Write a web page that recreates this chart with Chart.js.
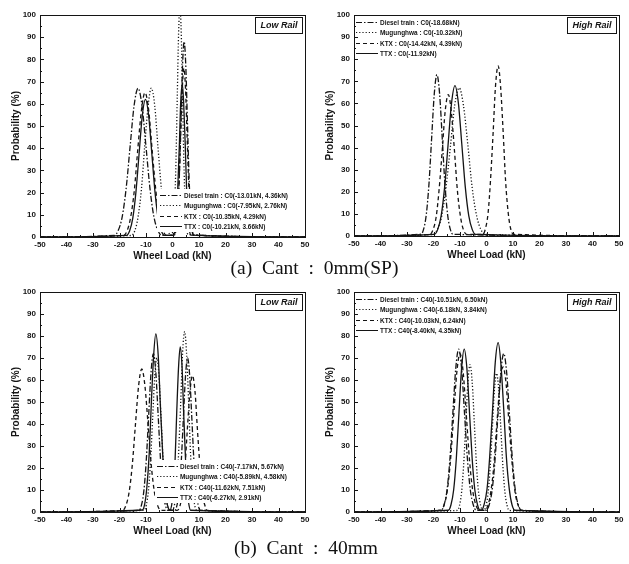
<!DOCTYPE html>
<html>
<head>
<meta charset="utf-8">
<script src="https://cdn.jsdelivr.net/npm/chart.js@4.4.0/dist/chart.umd.min.js"></script>
<style>
  body { margin: 0; background: #fff; width: 629px; height: 564px; position: relative; overflow: hidden; }
  .panel { position: absolute; }
  .cap { position: absolute; font-family: "Liberation Serif", "Times New Roman", serif; font-size: 19.5px; color: #111; white-space: pre; line-height: 20px; }
</style>
</head>
<body>
<div class="panel" style="left:0;top:0;width:314px;height:262px"><canvas id="c0Low"></canvas></div>
<div class="panel" style="left:314px;top:0;width:315px;height:262px"><canvas id="c0High"></canvas></div>
<div class="panel" style="left:0;top:280px;width:314px;height:262px"><canvas id="c40Low"></canvas></div>
<div class="panel" style="left:314px;top:280px;width:315px;height:262px"><canvas id="c40High"></canvas></div>
<div class="cap" style="left:0;width:629px;text-align:center;top:258px">(a)  Cant  :  0mm(SP)</div>
<div class="cap" style="left:0;width:612px;text-align:center;top:538px">(b)  Cant  :  40mm</div>
<script>
"use strict";

/* trains, in legend order */
var trains = ['Diesel train', 'Mugunghwa', 'KTX', 'TTX'];

/* legend texts */
var c0LowLabels = ['Diesel train : C0(-13.01kN, 4.36kN)', 'Mugunghwa : C0(-7.95kN, 2.76kN)', 'KTX : C0(-10.35kN, 4.29kN)', 'TTX : C0(-10.21kN, 3.66kN)'];
var c0HighLabels = ['Diesel train : C0(-18.68kN)', 'Mugunghwa : C0(-10.32kN)', 'KTX : C0(-14.42kN, 4.39kN)', 'TTX : C0(-11.92kN)'];
var c40LowLabels = ['Diesel train : C40(-7.17kN, 5.67kN)', 'Mugunghwa : C40(-5.89kN, 4.58kN)', 'KTX : C40(-11.62kN, 7.51kN)', 'TTX : C40(-6.27kN, 2.91kN)'];
var c40HighLabels = ['Diesel train : C40(-10.51kN, 6.50kN)', 'Mugunghwa : C40(-6.18kN, 3.84kN)', 'KTX : C40(-10.03kN, 6.24kN)', 'TTX : C40(-8.40kN, 4.35kN)'];

/* [wheel load kN, probability %] */
var c0LowDiesel = [[-50,0],[-22,0.7],[-20.5,2.9],[-19,9.0],[-17.5,21.8],[-16,40.7],[-14.5,59.1],[-13,67],[-11.5,59.1],[-10,40.7],[-8.5,21.8],[-7,9.0],[-5.5,2.9],[-4,0.7],[0.8,1.0],[1.4,3.9],[2.0,11.9],[2.6,28.6],[3.2,53.4],[3.8,77.6],[4.4,88],[5.0,77.6],[5.6,53.4],[6.2,28.6],[6.8,11.9],[7.4,3.9],[8.0,1.0],[50,0]];
var c0LowMugunghwa = [[-50,0],[-15.5,0.7],[-14.2,2.9],[-13.0,9.0],[-11.7,21.8],[-10.5,40.7],[-9.2,59.1],[-8.0,67],[-6.7,59.1],[-5.5,40.7],[-4.2,21.8],[-3.0,9.0],[-1.7,2.9],[-0.5,0.7],[-0.2,1.1],[0.3,4.6],[0.8,14.0],[1.3,33.8],[1.8,63.1],[2.3,91.7],[2.8,104],[3.3,91.7],[3.8,63.1],[4.3,33.8],[4.8,14.0],[5.3,4.6],[5.8,1.1],[50,0]];
var c0LowKtx = [[-50,0],[-18.4,0.7],[-17.1,2.9],[-15.8,8.8],[-14.4,21.1],[-13.1,39.5],[-11.7,57.3],[-10.4,65],[-9.0,57.3],[-7.7,39.5],[-6.3,21.1],[-5.0,8.8],[-3.6,2.9],[-2.3,0.7],[0.7,0.8],[1.3,3.3],[1.9,10.3],[2.5,24.7],[3.1,46.1],[3.7,67.0],[4.3,76],[4.9,67.0],[5.5,46.1],[6.1,24.7],[6.7,10.3],[7.3,3.3],[7.9,0.8],[50,0]];
var c0LowTtx = [[-50,0],[-17.4,0.7],[-16.2,2.7],[-15.0,8.4],[-13.8,20.2],[-12.6,37.6],[-11.4,54.7],[-10.2,62],[-9.0,54.7],[-7.8,37.6],[-6.6,20.2],[-5.4,8.4],[-4.2,2.7],[-3.0,0.7],[0.4,0.8],[0.9,3.0],[1.5,9.3],[2.0,22.4],[2.6,41.9],[3.1,60.9],[3.7,69],[4.2,60.9],[4.8,41.9],[5.3,22.4],[5.9,9.3],[6.4,3.0],[7.0,0.8],[50,0]];

var c0HighDiesel = [[-50,0],[-24.7,0.8],[-23.7,3.2],[-22.7,9.9],[-21.7,23.7],[-20.7,44.3],[-19.7,64.4],[-18.7,73],[-17.7,64.4],[-16.7,44.3],[-15.7,23.7],[-14.7,9.9],[-13.7,3.2],[-12.7,0.8],[50,0]];
var c0HighMugunghwa = [[-50,0],[-20.2,0.7],[-18.6,2.9],[-16.9,9.0],[-15.3,21.8],[-13.6,40.7],[-12.0,59.1],[-10.3,67],[-8.7,59.1],[-7.0,40.7],[-5.4,21.8],[-3.7,9.0],[-2.1,2.9],[-0.4,0.7],[50,0]];
var c0HighKtx = [[-50,0],[-21.3,0.7],[-20.2,2.8],[-19.0,8.6],[-17.9,20.8],[-16.7,38.8],[-15.6,56.4],[-14.4,64],[-13.3,56.4],[-12.1,38.8],[-11.0,20.8],[-9.8,8.6],[-8.7,2.8],[-7.5,0.7],[-1.3,0.8],[-0.4,3.4],[0.6,10.4],[1.5,25.0],[2.5,46.7],[3.4,67.9],[4.4,77],[5.3,67.9],[6.3,46.7],[7.2,25.0],[8.2,10.4],[9.1,3.4],[10.1,0.8],[50,0]];
var c0HighTtx = [[-50,0],[-19.7,0.7],[-18.4,3.0],[-17.1,9.2],[-15.8,22.1],[-14.5,41.3],[-13.2,60.0],[-11.9,68],[-10.6,60.0],[-9.3,41.3],[-8.0,22.1],[-6.7,9.2],[-5.4,3.0],[-4.1,0.7],[50,0]];

var c40LowDiesel = [[-50,0],[-12.6,0.8],[-11.7,3.2],[-10.8,9.7],[-9.9,23.4],[-9.0,43.7],[-8.1,63.5],[-7.2,72],[-6.3,63.5],[-5.4,43.7],[-4.5,23.4],[-3.6,9.7],[-2.7,3.2],[-1.8,0.8],[0.9,0.8],[1.7,3.1],[2.5,9.5],[3.3,22.8],[4.1,42.5],[4.9,61.7],[5.7,70],[6.5,61.7],[7.3,42.5],[8.1,22.8],[8.9,9.5],[9.7,3.1],[10.5,0.8],[50,0]];
var c40LowMugunghwa = [[-50,0],[-10.7,0.8],[-9.9,3.1],[-9.1,9.5],[-8.3,22.8],[-7.5,42.5],[-6.7,61.7],[-5.9,70],[-5.1,61.7],[-4.3,42.5],[-3.5,22.8],[-2.7,9.5],[-1.9,3.1],[-1.1,0.8],[0.1,0.9],[0.8,3.6],[1.6,11.1],[2.3,26.7],[3.1,49.8],[3.8,72.3],[4.6,82],[5.3,72.3],[6.1,49.8],[6.8,26.7],[7.6,11.1],[8.3,3.6],[9.1,0.9],[50,0]];
var c40LowKtx = [[-50,0],[-18.8,0.7],[-17.6,2.9],[-16.4,8.8],[-15.2,21.1],[-14.0,39.5],[-12.8,57.3],[-11.6,65],[-10.4,57.3],[-9.2,39.5],[-8.0,21.1],[-6.8,8.8],[-5.6,2.9],[-4.4,0.7],[1.8,0.7],[2.8,2.7],[3.7,8.4],[4.7,20.2],[5.6,37.6],[6.6,54.7],[7.5,62],[8.5,54.7],[9.4,37.6],[10.4,20.2],[11.3,8.4],[12.3,2.7],[13.2,0.7],[50,0]];
var c40LowTtx = [[-50,0],[-11.4,0.9],[-10.5,3.6],[-9.7,10.9],[-8.8,26.3],[-8.0,49.2],[-7.1,71.4],[-6.3,81],[-5.4,71.4],[-4.6,49.2],[-3.7,26.3],[-2.9,10.9],[-2.0,3.6],[-1.2,0.9],[-1.0,0.8],[-0.3,3.3],[0.3,10.1],[1.0,24.4],[1.6,45.5],[2.3,66.2],[2.9,75],[3.6,66.2],[4.2,45.5],[4.9,24.4],[5.5,10.1],[6.2,3.3],[6.8,0.8],[50,0]];

var c40HighDiesel = [[-50,0],[-17.1,0.8],[-16.0,3.3],[-14.9,10.0],[-13.8,24.1],[-12.7,44.9],[-11.6,65.3],[-10.5,74],[-9.4,65.3],[-8.3,44.9],[-7.2,24.1],[-6.1,10.0],[-5.0,3.3],[-3.9,0.8],[-0.1,0.8],[1.0,3.2],[2.1,9.7],[3.2,23.4],[4.3,43.7],[5.4,63.5],[6.5,72],[7.6,63.5],[8.7,43.7],[9.8,23.4],[10.9,9.7],[12.0,3.2],[13.1,0.8],[50,0]];
var c40HighMugunghwa = [[-50,0],[-11.0,0.7],[-10.2,2.9],[-9.4,9.0],[-8.6,21.8],[-7.8,40.7],[-7.0,59.1],[-6.2,67],[-5.4,59.1],[-4.6,40.7],[-3.8,21.8],[-3.0,9.0],[-2.2,2.9],[-1.4,0.7],[-1.0,0.7],[-0.2,2.8],[0.6,8.5],[1.4,20.5],[2.2,38.2],[3.0,55.6],[3.8,63],[4.6,55.6],[5.4,38.2],[6.2,20.5],[7.0,8.5],[7.8,2.8],[8.6,0.7],[50,0]];
var c40HighKtx = [[-50,0],[-17.2,0.8],[-16.0,3.2],[-14.8,9.7],[-13.6,23.4],[-12.4,43.7],[-11.2,63.5],[-10.0,72],[-8.8,63.5],[-7.6,43.7],[-6.4,23.4],[-5.2,9.7],[-4.0,3.2],[-2.8,0.8],[-0.7,0.7],[0.5,2.9],[1.6,8.9],[2.8,21.5],[3.9,40.1],[5.1,58.2],[6.2,66],[7.4,58.2],[8.5,40.1],[9.7,21.5],[10.8,8.9],[12.0,2.9],[13.1,0.7],[50,0]];
var c40HighTtx = [[-50,0],[-14.4,0.8],[-13.4,3.3],[-12.4,10.0],[-11.4,24.1],[-10.4,44.9],[-9.4,65.3],[-8.4,74],[-7.4,65.3],[-6.4,44.9],[-5.4,24.1],[-4.4,10.0],[-3.4,3.3],[-2.4,0.8],[-1.9,0.8],[-0.9,3.4],[0.2,10.4],[1.2,25.0],[2.3,46.7],[3.3,67.9],[4.4,77],[5.4,67.9],[6.5,46.7],[7.5,25.0],[8.6,10.4],[9.6,3.4],[10.7,0.8],[50,0]];

/* line style per train: dash-dot, dot, dash, solid */
var dashes = [[6, 2, 1.5, 2], [1.2, 2], [4, 3], []];
var ink = '#141414';
var sansFont = '"Liberation Sans", Arial, sans-serif';

/* frame, inward ticks, legend box and rail tag (Origin style) */
var originDeco = {
    id: 'originDeco',
    afterDatasetsDraw: function (chart, args, opts) {
        var ctx = chart.ctx, a = chart.chartArea;
        var xs = chart.scales.x, ys = chart.scales.y;
        ctx.save();

        // legend
        if (opts.box) {
            ctx.fillStyle = '#fff';
            ctx.fillRect(a.left + opts.box[0], a.top + opts.box[1], opts.box[2], opts.box[3]);
        }
        ctx.font = 'bold 7.5px ' + sansFont;
        ctx.textBaseline = 'middle';
        opts.labels.forEach(function (t, i) {
            var y = Math.round(a.top + opts.rows[i]) + 0.5;
            ctx.strokeStyle = ink;
            ctx.lineWidth = 1;
            ctx.setLineDash(dashes[i]);
            ctx.beginPath();
            ctx.moveTo(a.left + opts.sample[0], y);
            ctx.lineTo(a.left + opts.sample[1], y);
            ctx.stroke();
            ctx.setLineDash([]);
            ctx.fillStyle = ink;
            // condensed lettering
            ctx.save();
            ctx.translate(a.left + opts.sample[1] + 2, y);
            ctx.scale(0.86, 1);
            ctx.fillText(t, 0, 0);
            ctx.restore();
        });

        // frame
        ctx.strokeStyle = ink;
        ctx.lineWidth = 1;
        ctx.strokeRect(Math.round(a.left) + 0.5, Math.round(a.top) + 0.5,
            Math.round(a.right - a.left), Math.round(a.bottom - a.top));

        // inward ticks
        ctx.beginPath();
        var v, px;
        for (v = -50; v <= 50; v += 5) {
            px = Math.round(xs.getPixelForValue(v)) + 0.5;
            ctx.moveTo(px, a.bottom);
            ctx.lineTo(px, a.bottom - (v % 10 === 0 ? 4 : 2));
        }
        for (v = 0; v <= 100; v += 5) {
            px = Math.round(ys.getPixelForValue(v)) + 0.5;
            ctx.moveTo(a.left, px);
            ctx.lineTo(a.left + (v % 10 === 0 ? 4 : 2), px);
        }
        ctx.stroke();

        // rail tag
        ctx.font = 'italic bold 9px ' + sansFont;
        var w = ctx.measureText(opts.tag).width + 10;
        var bx = Math.round(a.right - 3 - w) + 0.5, by = Math.round(a.top + 2) + 0.5;
        ctx.fillStyle = '#fff';
        ctx.fillRect(bx, by, w, 16);
        ctx.strokeRect(bx, by, w, 16);
        ctx.fillStyle = ink;
        ctx.textAlign = 'center';
        ctx.fillText(opts.tag, bx + w / 2, by + 8.5);
        ctx.restore();
    }
};

function makeChart(id, series, labels, deco, pad) {
    var ctx = document.getElementById(id).getContext('2d');
    var datasets = series.map(function (pts, i) {
        return {
            label: trains[i],
            data: pts.map(function (p) { return { x: p[0], y: p[1] }; }),
            borderColor: ink,
            borderWidth: 1.3,
            borderDash: dashes[i],
            pointRadius: 0,
            fill: false,
            cubicInterpolationMode: 'monotone'
        };
    });
    deco.labels = labels;
    return new Chart(ctx, {
        type: 'line',
        data: { datasets: datasets },
        options: {
            responsive: true,
            maintainAspectRatio: false,
            animation: false,
            layout: { padding: pad },
            plugins: {
                legend: { display: false },
                tooltip: { enabled: false },
                originDeco: deco
            },
            scales: {
                x: {
                    type: 'linear',
                    min: -50,
                    max: 50,
                    grid: { display: false, drawTicks: false },
                    border: { display: false },
                    ticks: { stepSize: 10, padding: 3, color: ink, font: { family: sansFont, size: 8, weight: 'bold' }, maxRotation: 0 },
                    title: { display: true, text: 'Wheel Load (kN)', color: ink, padding: 0, font: { family: sansFont, size: 10, weight: 'bold' } },
                    afterFit: function (s) { s.height = 25; }
                },
                y: {
                    min: 0,
                    max: 100,
                    grid: { display: false, drawTicks: false },
                    border: { display: false },
                    ticks: { stepSize: 10, padding: 4, color: ink, font: { family: sansFont, size: 8, weight: 'bold' } },
                    title: { display: true, text: 'Probability (%)', color: ink, padding: { top: 10, bottom: 0 }, font: { family: sansFont, size: 10, weight: 'bold' } },
                    afterFit: function (s) { s.width = 40; }
                }
            }
        },
        plugins: [originDeco]
    });
}

makeChart('c0Low', [c0LowDiesel, c0LowMugunghwa, c0LowKtx, c0LowTtx], c0LowLabels,
    { tag: 'Low Rail', box: [117, 174, 147, 43], rows: [180, 190.3, 200.6, 211], sample: [120, 142] },
    { top: 15, right: 9, left: 0, bottom: 0 });

makeChart('c0High', [c0HighDiesel, c0HighMugunghwa, c0HighKtx, c0HighTtx], c0HighLabels,
    { tag: 'High Rail', box: null, rows: [7, 17.3, 27.6, 38], sample: [2, 24] },
    { top: 15, right: 10, left: 0, bottom: 1 });

makeChart('c40Low', [c40LowDiesel, c40LowMugunghwa, c40LowKtx, c40LowTtx], c40LowLabels,
    { tag: 'Low Rail', box: [115, 168, 149, 43], rows: [174, 184.3, 194.6, 205], sample: [117, 138] },
    { top: 12, right: 9, left: 0, bottom: 5 });

makeChart('c40High', [c40HighDiesel, c40HighMugunghwa, c40HighKtx, c40HighTtx], c40HighLabels,
    { tag: 'High Rail', box: null, rows: [7, 17.3, 27.6, 38], sample: [2, 24] },
    { top: 12, right: 10, left: 0, bottom: 5 });
</script>
</body>
</html>
